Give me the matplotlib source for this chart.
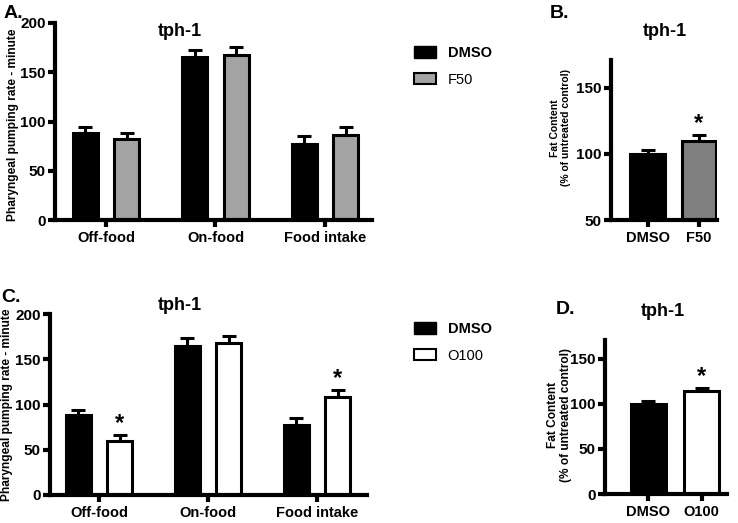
import matplotlib
matplotlib.use("Agg")
import matplotlib.pyplot as plt
from matplotlib.patches import Patch
import numpy as np

plt.rcParams["font.family"] = ["Liberation Sans", "DejaVu Sans"]
plt.rcParams["font.weight"] = "bold"

W, H = 738, 523

# pumping data (panels A and C)
groups = ["Off-food", "On-food", "Food intake"]
dmso_pump = [88, 165, 77]
dmso_pump_err = [6, 8, 8]
f50_pump = [82, 168, 86]
f50_pump_err = [6, 8, 8]
o100_pump = [60, 168, 108]
o100_pump_err = [6, 8, 8]
o100_sig = [True, False, True]

# fat content data (panels B and D)
fat_labels_b = ["DMSO", "F50"]
fat_b = [100, 110]
fat_b_err = [3, 4]
fat_sig_b = [False, True]
fat_labels_d = ["DMSO", "O100"]
fat_d = [100, 114]
fat_d_err = [3, 4]
fat_sig_d = [False, True]

LW = 3.0


def px_axes(fig, left, top, right, bottom):
    return fig.add_axes([left / W, 1 - bottom / H, (right - left) / W, (bottom - top) / H])


def place_ylabel(ax, x_right_px, y_center_px):
    # right edge of the rotated label sits at x_right_px
    ax.yaxis.set_label_coords(x_right_px / W, 1 - y_center_px / H, transform=fig.transFigure)


def style_axes(ax):
    for s in ["top", "right"]:
        ax.spines[s].set_visible(False)
    for s in ["left", "bottom"]:
        ax.spines[s].set_linewidth(LW)
    ax.tick_params(axis="both", width=LW, length=5)
    ax.tick_params(axis="y", labelsize=11, pad=1.5)
    ax.tick_params(axis="x", labelsize=10.5, pad=3)
    for lab in ax.get_xticklabels() + ax.get_yticklabels():
        lab.set_fontweight("bold")


def bars_with_err(ax, x, vals, errs, color, width, sig=None):
    ax.bar(x, vals, width=width, color=color, edgecolor="black", linewidth=2.2, zorder=2)
    ax.errorbar(x, vals, yerr=[np.zeros(len(vals)), errs], fmt="none",
                ecolor="black", elinewidth=2.2, capsize=5, capthick=2.2, zorder=1)
    if sig is not None:
        for xi, v, e, s in zip(x, vals, errs, sig):
            if s:
                ax.text(xi, v + e, "*", ha="center", va="bottom",
                        fontsize=17, fontweight="bold")


def pump_panel(ax, treat, treat_err, treat_color, sig, xlim):
    x = np.arange(len(groups))
    bars_with_err(ax, x - 0.19, dmso_pump, dmso_pump_err, "black", 0.23)
    bars_with_err(ax, x + 0.19, treat, treat_err, treat_color, 0.23, sig)
    ax.set_xticks(x)
    ax.set_xticklabels(groups)
    ax.set_ylim(0, 200)
    ax.set_yticks([0, 50, 100, 150, 200])
    ax.set_xlim(*xlim)
    ax.set_ylabel("Pharyngeal pumping rate - minute", fontsize=8.6, fontweight="bold")
    style_axes(ax)


def fat_panel(ax, labels, vals, errs, color, sig, ylim, yticks, xlim, width, label_size):
    x = np.arange(len(labels))
    colors = ["black", color]
    for i in range(len(labels)):
        bars_with_err(ax, [x[i]], [vals[i]], [errs[i]], colors[i], width, [sig[i]])
    ax.set_xticks(x)
    ax.set_xticklabels(labels)
    ax.set_ylim(*ylim)
    ax.set_yticks(yticks)
    ax.set_xlim(*xlim)
    ax.set_ylabel("Fat Content\n(% of untreated control)", fontsize=label_size,
                  fontweight="bold", linespacing=1.1)
    style_axes(ax)


def add_legend(ax, treat_label, treat_color, top_px):
    leg = ax.legend(handles=[Patch(facecolor="black", edgecolor="black", label="DMSO"),
                             Patch(facecolor=treat_color, edgecolor="black", linewidth=1.5,
                                   label=treat_label)],
                    loc="upper left", bbox_to_anchor=(401 / W, 1 - top_px / H),
                    bbox_transform=fig.transFigure, frameon=False, fontsize=10.5,
                    handlelength=1.5, handleheight=0.8, labelspacing=0.85)
    leg.get_texts()[0].set_fontweight("bold")
    leg.get_texts()[1].set_fontweight("normal")


fig = plt.figure(figsize=(W / 100, H / 100), dpi=100)

# A
axA = px_axes(fig, 55, 23, 372, 220)
pump_panel(axA, f50_pump, f50_pump_err, "#a3a3a3", None, (-0.466, 2.43))
place_ylabel(axA, 19, 125)
fig.text(180 / W, 1 - 31 / H, "tph-1", fontsize=13, fontweight="bold", ha="center", va="center")
fig.text(4 / W, 1 - 13 / H, "A.", fontsize=14, fontweight="bold", va="center")
add_legend(axA, "F50", "#a3a3a3", 33)

# B
axB = px_axes(fig, 611, 60, 717, 220)
fat_panel(axB, fat_labels_b, fat_b, fat_b_err, "#808080", fat_sig_b, (50, 171), [50, 100, 150],
          (-0.71, 1.35), 0.67, 7.5)
place_ylabel(axB, 571, 128)
fig.text(665 / W, 1 - 31 / H, "tph-1", fontsize=13, fontweight="bold", ha="center", va="center")
fig.text(550 / W, 1 - 13 / H, "B.", fontsize=14, fontweight="bold", va="center")

# C
axC = px_axes(fig, 50, 314, 367, 495)
pump_panel(axC, o100_pump, o100_pump_err, "white", o100_sig, (-0.45, 2.46))
place_ylabel(axC, 13, 405)
fig.text(180 / W, 1 - 305 / H, "tph-1", fontsize=13, fontweight="bold", ha="center", va="center")
fig.text(1 / W, 1 - 298 / H, "C.", fontsize=14, fontweight="bold", va="center")
add_legend(axC, "O100", "white", 309)

# D
axD = px_axes(fig, 605, 340, 727, 494)
fat_panel(axD, fat_labels_d, fat_d, fat_d_err, "white", fat_sig_d, (0, 171), [0, 50, 100, 150],
          (-0.82, 1.48), 0.66, 8.6)
place_ylabel(axD, 572, 415)
fig.text(663 / W, 1 - 311 / H, "tph-1", fontsize=13, fontweight="bold", ha="center", va="center")
fig.text(556 / W, 1 - 310 / H, "D.", fontsize=14, fontweight="bold", va="center")

fig.savefig("out.png", dpi=100)
